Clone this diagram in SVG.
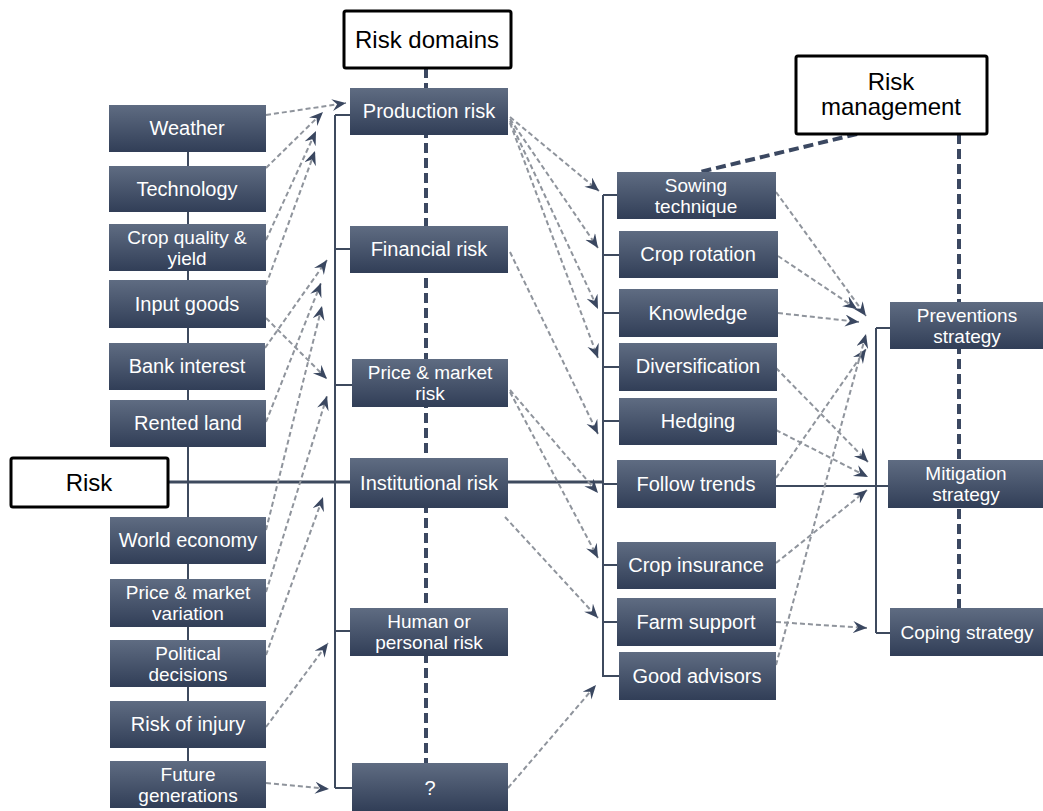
<svg xmlns="http://www.w3.org/2000/svg" width="1043" height="811" viewBox="0 0 1043 811">
<defs>
<linearGradient id="g" x1="0" y1="0" x2="0" y2="1">
<stop offset="0" stop-color="#5f6c82"/>
<stop offset="1" stop-color="#313e57"/>
</linearGradient>
<marker id="ah" markerUnits="userSpaceOnUse" markerWidth="16" markerHeight="14" refX="14" refY="6" orient="auto" viewBox="0 0 16 14">
<path d="M0,0 L14,6 L0,12 L5,6 Z" fill="#3a4760"/>
</marker>
<style>
.box{fill:url(#g);}
.t{fill:#ffffff;font-family:"Liberation Sans",Arial,sans-serif;font-size:20px;text-anchor:middle;}
.t2{fill:#ffffff;font-family:"Liberation Sans",Arial,sans-serif;font-size:19px;text-anchor:middle;}
.hdr{fill:#ffffff;stroke:#000000;stroke-width:3;}
.ht{fill:#000000;font-family:"Liberation Sans",Arial,sans-serif;font-size:24px;text-anchor:middle;}
.trunk{stroke:#3e4a5e;stroke-width:2;fill:none;}
.risk{stroke:#3e4a5e;stroke-width:3;fill:none;}
.thick{stroke:#3b4861;stroke-width:4;stroke-dasharray:10 5;fill:none;}
.arr{stroke:#8f949c;stroke-width:2;stroke-dasharray:5 3;fill:none;marker-end:url(#ah);}
</style>
</defs>
<rect width="1043" height="811" fill="#ffffff"/>

<g id="connectors">
<line class="trunk" x1="188" y1="152" x2="188" y2="761"/>
<line class="trunk" x1="335" y1="115" x2="335" y2="788"/>
<line class="trunk" x1="335" y1="115" x2="350" y2="115"/>
<line class="trunk" x1="335" y1="249" x2="350" y2="249"/>
<line class="trunk" x1="335" y1="385" x2="352" y2="385"/>
<line class="trunk" x1="335" y1="631" x2="350" y2="631"/>
<line class="trunk" x1="335" y1="788" x2="352" y2="788"/>
<line class="risk" x1="168" y1="482" x2="350" y2="482"/>
<line class="risk" x1="508" y1="482" x2="603" y2="482"/>
<line class="trunk" x1="603" y1="195" x2="603" y2="677"/>
<line class="trunk" x1="603" y1="195" x2="617" y2="195"/>
<line class="trunk" x1="603" y1="255" x2="619" y2="255"/>
<line class="trunk" x1="603" y1="313" x2="619" y2="313"/>
<line class="trunk" x1="603" y1="367" x2="619" y2="367"/>
<line class="trunk" x1="603" y1="421" x2="619" y2="421"/>
<line class="trunk" x1="603" y1="484" x2="617" y2="484"/>
<line class="trunk" x1="603" y1="565" x2="617" y2="565"/>
<line class="trunk" x1="603" y1="622" x2="617" y2="622"/>
<line class="trunk" x1="603" y1="676" x2="619" y2="676"/>
<line class="trunk" x1="876" y1="328" x2="876" y2="633"/>
<line class="trunk" x1="876" y1="328" x2="890" y2="328"/>
<line class="trunk" x1="776" y1="486" x2="888" y2="486"/>
<line class="trunk" x1="876" y1="633" x2="890" y2="633"/>
<line class="thick" x1="426" y1="68" x2="426" y2="763"/>
<line class="thick" x1="857" y1="134" x2="700" y2="172"/>
<line class="thick" x1="959" y1="134" x2="959" y2="608"/>
<line class="arr" x1="266" y1="115" x2="346" y2="103"/>
<line class="arr" x1="266" y1="168" x2="323" y2="112"/>
<line class="arr" x1="266" y1="240" x2="316" y2="131"/>
<line class="arr" x1="266" y1="285" x2="315" y2="151"/>
<line class="arr" x1="266" y1="318" x2="327" y2="379"/>
<line class="arr" x1="265" y1="348" x2="327" y2="260"/>
<line class="arr" x1="266" y1="422" x2="321" y2="283"/>
<line class="arr" x1="266" y1="530" x2="322" y2="306"/>
<line class="arr" x1="266" y1="592" x2="327" y2="396"/>
<line class="arr" x1="266" y1="655" x2="323" y2="497"/>
<line class="arr" x1="266" y1="727" x2="328" y2="643"/>
<line class="arr" x1="266" y1="783" x2="329" y2="789"/>
<line class="arr" x1="510" y1="117" x2="599" y2="191"/>
<line class="arr" x1="510" y1="119" x2="598" y2="248"/>
<line class="arr" x1="510" y1="121" x2="598" y2="309"/>
<line class="arr" x1="510" y1="123" x2="598" y2="358"/>
<line class="arr" x1="510" y1="252" x2="598" y2="434"/>
<line class="arr" x1="510" y1="390" x2="598" y2="493"/>
<line class="arr" x1="510" y1="392" x2="598" y2="558"/>
<line class="arr" x1="505" y1="517" x2="598" y2="618"/>
<line class="arr" x1="508" y1="788" x2="596" y2="685"/>
<line class="arr" x1="776" y1="192" x2="866" y2="316"/>
<line class="arr" x1="778" y1="256" x2="857" y2="309"/>
<line class="arr" x1="778" y1="313" x2="859" y2="322"/>
<line class="arr" x1="776" y1="478" x2="866" y2="349"/>
<line class="arr" x1="776" y1="665" x2="866" y2="334"/>
<line class="arr" x1="776" y1="368" x2="868" y2="462"/>
<line class="arr" x1="776" y1="430" x2="868" y2="477"/>
<line class="arr" x1="776" y1="563" x2="867" y2="490"/>
<line class="arr" x1="776" y1="622" x2="867" y2="628"/>
</g>

<g id="risk-domains"><rect class="hdr" x="344" y="11" width="167" height="57" rx="2"/><text class="ht" x="427" y="48">Risk domains</text></g>
<g id="risk"><rect class="hdr" x="11" y="458" width="157" height="49" rx="2"/><text class="ht" x="89" y="491">Risk</text></g>
<g id="risk-management"><rect class="hdr" x="796" y="56" width="191" height="78" rx="2"/><text class="ht" x="891" y="90">Risk</text><text class="ht" x="891" y="115">management</text></g>

<g id="weather"><rect class="box" x="109" y="105" width="157" height="47"/><text class="t" x="187" y="135">Weather</text></g>
<g id="technology"><rect class="box" x="109" y="166" width="157" height="46"/><text class="t" x="187" y="196">Technology</text></g>
<g id="crop-quality"><rect class="box" x="109" y="224" width="157" height="47"/><text class="t2" x="187" y="244">Crop quality &amp;</text><text class="t2" x="187" y="265">yield</text></g>
<g id="input-goods"><rect class="box" x="109" y="280" width="157" height="48"/><text class="t" x="187" y="311">Input goods</text></g>
<g id="bank-interest"><rect class="box" x="109" y="343" width="156" height="47"/><text class="t" x="187" y="373">Bank interest</text></g>
<g id="rented-land"><rect class="box" x="110" y="400" width="156" height="47"/><text class="t" x="188" y="430">Rented land</text></g>
<g id="world-economy"><rect class="box" x="110" y="517" width="156" height="47"/><text class="t" x="188" y="547">World economy</text></g>
<g id="price-variation"><rect class="box" x="110" y="579" width="156" height="48"/><text class="t2" x="188" y="599">Price &amp; market</text><text class="t2" x="188" y="620">variation</text></g>
<g id="political"><rect class="box" x="110" y="640" width="156" height="47"/><text class="t2" x="188" y="660">Political</text><text class="t2" x="188" y="681">decisions</text></g>
<g id="injury"><rect class="box" x="110" y="701" width="156" height="47"/><text class="t" x="188" y="731">Risk of injury</text></g>
<g id="future"><rect class="box" x="110" y="761" width="156" height="47"/><text class="t2" x="188" y="781">Future</text><text class="t2" x="188" y="802">generations</text></g>

<g id="production"><rect class="box" x="350" y="88" width="158" height="47"/><text class="t" x="429" y="118">Production risk</text></g>
<g id="financial"><rect class="box" x="350" y="226" width="158" height="47"/><text class="t" x="429" y="256">Financial risk</text></g>
<g id="price-risk"><rect class="box" x="352" y="359" width="156" height="48"/><text class="t2" x="430" y="379">Price &amp; market</text><text class="t2" x="430" y="400">risk</text></g>
<g id="institutional"><rect class="box" x="350" y="458" width="158" height="50"/><text class="t" x="429" y="490">Institutional risk</text></g>
<g id="human"><rect class="box" x="350" y="608" width="158" height="48"/><text class="t2" x="429" y="628">Human or</text><text class="t2" x="429" y="649">personal risk</text></g>
<g id="unknown"><rect class="box" x="352" y="763" width="156" height="48"/><text class="t" x="430" y="795">?</text></g>

<g id="sowing"><rect class="box" x="617" y="172" width="159" height="47"/><text class="t2" x="696" y="192">Sowing</text><text class="t2" x="696" y="213">technique</text></g>
<g id="crop-rotation"><rect class="box" x="619" y="231" width="159" height="47"/><text class="t" x="698" y="261">Crop rotation</text></g>
<g id="knowledge"><rect class="box" x="619" y="289" width="159" height="48"/><text class="t" x="698" y="320">Knowledge</text></g>
<g id="diversification"><rect class="box" x="619" y="343" width="158" height="48"/><text class="t" x="698" y="373">Diversification</text></g>
<g id="hedging"><rect class="box" x="619" y="398" width="158" height="47"/><text class="t" x="698" y="428">Hedging</text></g>
<g id="follow-trends"><rect class="box" x="617" y="460" width="159" height="48"/><text class="t" x="696" y="491">Follow trends</text></g>
<g id="crop-insurance"><rect class="box" x="617" y="542" width="159" height="47"/><text class="t" x="696" y="572">Crop insurance</text></g>
<g id="farm-support"><rect class="box" x="617" y="598" width="159" height="48"/><text class="t" x="696" y="629">Farm support</text></g>
<g id="good-advisors"><rect class="box" x="619" y="652" width="157" height="48"/><text class="t" x="697" y="683">Good advisors</text></g>

<g id="preventions"><rect class="box" x="890" y="302" width="153" height="47"/><text class="t2" x="967" y="322">Preventions</text><text class="t2" x="967" y="343">strategy</text></g>
<g id="mitigation"><rect class="box" x="888" y="460" width="155" height="48"/><text class="t2" x="966" y="480">Mitigation</text><text class="t2" x="966" y="501">strategy</text></g>
<g id="coping"><rect class="box" x="890" y="608" width="153" height="48"/><text class="t" x="967" y="639" style="font-size:19px">Coping strategy</text></g>
</svg>
